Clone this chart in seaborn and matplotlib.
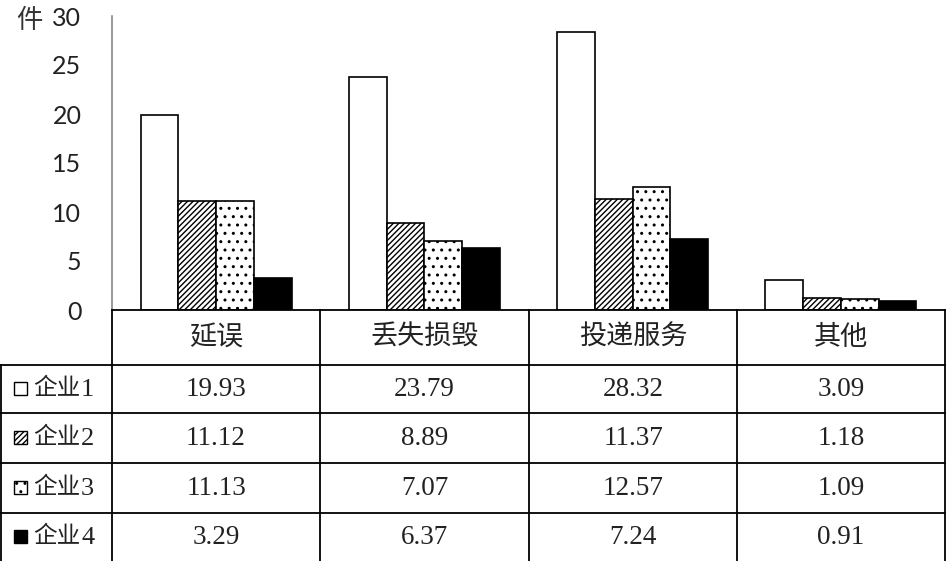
import matplotlib
matplotlib.use("Agg")
import matplotlib.pyplot as plt
from matplotlib.patches import Rectangle
import pandas as pd
import seaborn as sns

# 데이터
categories = ["延误", "丢失损毁", "投递服务", "其他"]
companies = ["企业1", "企业2", "企业3", "企业4"]
values_1 = [19.93, 23.79, 28.32, 3.09]
values_2 = [11.12, 8.89, 11.37, 1.18]
values_3 = [11.13, 7.07, 12.57, 1.09]
values_4 = [3.29, 6.37, 7.24, 0.91]
y_ticks = [0, 5, 10, 15, 20, 25, 30]

series = [values_1, values_2, values_3, values_4]
faces = ["white", "white", "white", "black"]
hatches = ["", "//////", "..", ""]

rows = []
for comp, vals in zip(companies, series):
    for cat, v in zip(categories, vals):
        rows.append({"类别": cat, "企业": comp, "件数": v})
df = pd.DataFrame(rows)

sns.set_style("white")
plt.rcParams["font.family"] = ["Liberation Serif", "Noto Sans CJK SC", "DejaVu Sans"]
plt.rcParams["hatch.linewidth"] = 1.0

W, H = 951, 561
fig = plt.figure(figsize=(W / 100, H / 100), dpi=100)

# 막대 영역 (픽셀 좌표 기준)
x0, x1, y_top, y_base = 112, 945, 16, 310
ax = fig.add_axes([x0 / W, 1 - y_base / H, (x1 - x0) / W, (y_base - y_top) / H])
sns.barplot(data=df, x="类别", y="件数", hue="企业", order=categories,
            hue_order=companies, width=0.725, edgecolor="black",
            linewidth=1.2, legend=False, ax=ax)
for cont, fc, ht in zip(ax.containers, faces, hatches):
    for bar in cont:
        bar.set_facecolor(fc)
        bar.set_hatch(ht)
ax.set_ylim(0, 30)
ax.set_xlim(-0.5, len(categories) - 0.5)
ax.set_yticks(y_ticks)
ax.set_yticklabels([str(t) for t in y_ticks], family=["Lato", "DejaVu Sans"],
                   fontsize=18, color="#222222")
ax.tick_params(axis="y", length=0, pad=22)
ax.set_xticks([])
ax.set_xlabel("")
ax.set_ylabel("")
for s in ["top", "right", "bottom"]:
    ax.spines[s].set_visible(False)
ax.spines["left"].set_color("#888888")
ax.spines["left"].set_linewidth(1.2)
fig.text(29 / W, 1 - 21 / H, "件", family=["Noto Sans CJK SC"], fontsize=19,
         ha="center", va="center", color="#333333")

# 데이터 표
tx = fig.add_axes([0, 0, 1, 1 - y_base / H + 0.001])
tx.set_xlim(0, W)
tx.set_ylim(H, y_base)
tx.axis("off")
col_edges = [0, 112, 320, 529, 737, 945]
row_edges = [310, 365, 413, 463, 513, 561]
lw = 1.3
tx.plot([112, 945], [310.5, 310.5], color="black", lw=lw)
for yy in row_edges[1:-1]:
    tx.plot([0, 945], [yy, yy], color="black", lw=lw)
tx.plot([1, 1], [365, 561], color="black", lw=lw)
for xx in col_edges[1:]:
    tx.plot([xx, xx], [310, 561], color="black", lw=lw)

for j, cat in enumerate(categories):
    cx = (col_edges[j + 1] + col_edges[j + 2]) / 2
    tx.text(cx, 338, cat, ha="center", va="center", fontsize=19.5,
            family=["Noto Sans CJK SC"], color="#222222")

for i, (comp, vals) in enumerate(zip(companies, series)):
    cy = (row_edges[i + 1] + row_edges[i + 2]) / 2
    tx.add_patch(Rectangle((14, cy - 7), 13, 13, facecolor=faces[i],
                           edgecolor="black", hatch=hatches[i], lw=1))
    tx.text(33, cy, comp[:2], ha="left", va="center", fontsize=17,
            family=["Noto Sans CJK SC"], color="#222222")
    tx.text(81, cy + 1, comp[2:], ha="left", va="center", fontsize=19,
            family=["Liberation Serif"], color="#222222")
    for j, v in enumerate(vals):
        cx = (col_edges[j + 1] + col_edges[j + 2]) / 2
        tx.text(cx, cy + 1, f"{v:.2f}", ha="center", va="center", fontsize=19.5,
                family=["Liberation Serif"], color="#222222")

fig.savefig("out.png", dpi=100, facecolor="white")
